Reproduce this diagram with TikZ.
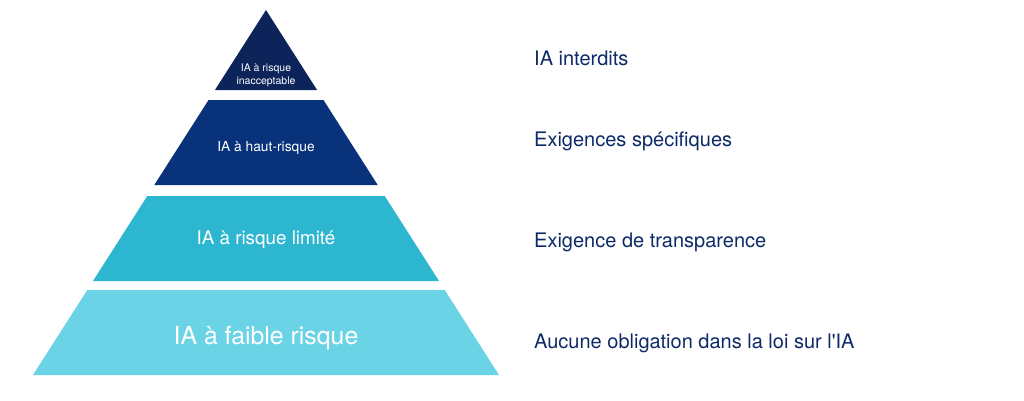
\documentclass[tikz,border=0pt]{standalone}
\usepackage{fontspec}
\setmainfont{TeX Gyre Heros}
\usepackage{tikz}
\usetikzlibrary{positioning,calc}
\definecolor{navy}{HTML}{0C2459}
\definecolor{royal}{HTML}{08327A}
\definecolor{teal}{HTML}{2DB6CF}
\definecolor{sky}{HTML}{6AD3E6}
\definecolor{ink}{HTML}{0D2A66}
\begin{document}
\begin{tikzpicture}[x=1pt,y=-1pt,
  tierlabel/.style={text=white,align=center,inner sep=0pt},
  rule/.style={text=ink,anchor=west,inner sep=0pt,font=\fontsize{20}{24}\selectfont}]
\useasboundingbox (0,0) rectangle (1024,400);
% pyramid slices, apex at (266,10)
\foreach \t/\b/\c in {10/90/navy,100/185/royal,196/281/teal,290/375/sky}
  \fill[\c] ({266-0.6384*(\t-10)},\t) -- ({266+0.6384*(\t-10)},\t)
    -- ({266+0.6384*(\b-10)},\b) -- ({266-0.6384*(\b-10)},\b) -- cycle;
\node[tierlabel,font=\fontsize{10.5}{13}\selectfont] (inacc) at (266,75) {IA à risque\\inacceptable};
\node[tierlabel,font=\fontsize{13.8}{16}\selectfont] (haut) at (266,148) {IA à haut-risque};
\node[tierlabel,font=\fontsize{18.8}{22}\selectfont] (limite) at (266,240) {IA à risque limité};
\node[tierlabel,font=\fontsize{24.8}{28}\selectfont] (faible) at (266,338) {IA à faible risque};
% obligations
\node[rule] (interdits) at (534,58) {IA interdits};
\node[rule] (specif) at (534,141) {Exigences spécifiques};
\node[rule] (transp) at (534,242) {Exigence de transparence};
\node[rule] (aucune) at (534,343) {Aucune obligation dans la loi sur l\textquotesingle IA};
\end{tikzpicture}
\end{document}
